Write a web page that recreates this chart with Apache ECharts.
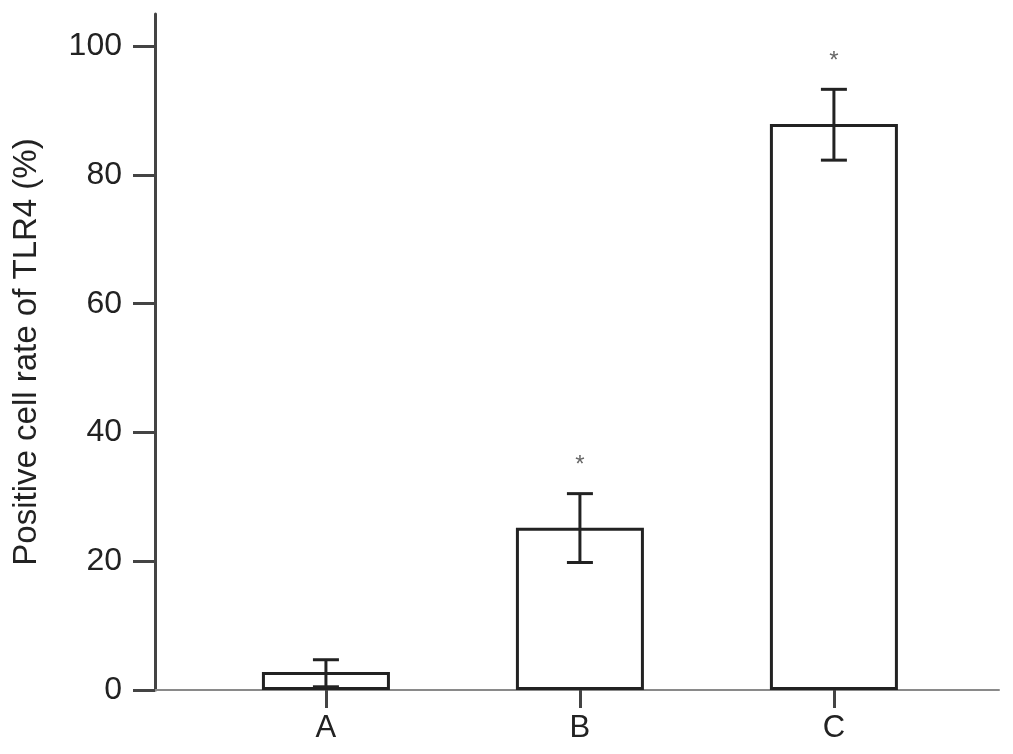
<!DOCTYPE html>
<html>
<head>
<meta charset="utf-8">
<script src="https://cdn.jsdelivr.net/npm/echarts@6/dist/echarts.min.js"></script>
<style>
    html, body { margin: 0; padding: 0; background: #fff; }
    #main { width: 1013px; height: 754px; }
</style>
</head>
<body>
<div id="main"></div>
<script>
// 数据
const categories = ['A', 'B', 'C'];
const positions = [1, 2, 3];
const rates = [2.8, 25.2, 87.9];
const errLow = [0.5, 19.8, 82.3];
const errHigh = [4.7, 30.5, 93.3];
const marks = ['', '*', '*'];
const yTicks = [0, 20, 40, 60, 80, 100];

let myChart = echarts.init(document.getElementById('main'));

const font = 'Liberation Sans, Arial, Helvetica, sans-serif';

let option = {
    backgroundColor: '#fff',
    animation: false,
    grid: { left: 155, right: 14, top: 14, bottom: 64 },
    xAxis: {
        type: 'value',
        min: 0.327,
        max: 3.65,
        splitLine: { show: false },
        axisLine: { lineStyle: { color: '#8a8a8a', width: 2 } },
        axisTick: {
            customValues: positions,
            length: 18,
            lineStyle: { color: '#444', width: 3 }
        },
        axisLabel: {
            customValues: positions,
            formatter: (v) => categories[Math.round(v) - 1],
            margin: 23,
            fontSize: 31,
            color: '#222',
            fontFamily: font
        }
    },
    yAxis: {
        type: 'value',
        min: 0,
        max: 105,
        name: 'Positive cell rate of TLR4 (%)',
        nameLocation: 'middle',
        nameGap: 112,
        nameTextStyle: { fontSize: 33, color: '#222', fontFamily: font },
        splitLine: { show: false },
        axisLine: { show: true, lineStyle: { color: '#444', width: 3 } },
        axisTick: {
            show: true,
            customValues: yTicks,
            length: 22,
            lineStyle: { color: '#444', width: 3 }
        },
        axisLabel: {
            customValues: yTicks,
            margin: 33,
            fontSize: 32,
            color: '#222',
            fontFamily: font
        }
    },
    series: [
        {
            type: 'bar',
            barWidth: 128,
            data: positions.map((p, i) => [p, rates[i]]),
            itemStyle: { color: '#fff', borderColor: '#222', borderWidth: 3 },
            z: 3
        },
        {
            // 误差线和显著性标记
            type: 'custom',
            data: positions.map((p, i) => [p, errLow[i], errHigh[i], i]),
            z: 5,
            renderItem: function (params, api) {
                const x = api.value(0);
                const lo = api.coord([x, api.value(1)]);
                const hi = api.coord([x, api.value(2)]);
                const half = 13;
                const style = { stroke: '#222', lineWidth: 3 };
                const children = [
                    { type: 'line', shape: { x1: lo[0], y1: lo[1], x2: hi[0], y2: hi[1] }, style: style },
                    { type: 'line', shape: { x1: hi[0] - half, y1: hi[1], x2: hi[0] + half, y2: hi[1] }, style: style },
                    { type: 'line', shape: { x1: lo[0] - half, y1: lo[1], x2: lo[0] + half, y2: lo[1] }, style: style }
                ];
                const m = marks[api.value(3)];
                if (m) {
                    children.push({
                        type: 'text',
                        style: {
                            text: m, x: hi[0], y: hi[1] - 28,
                            align: 'center', verticalAlign: 'middle',
                            fontSize: 24, fill: '#666', fontFamily: font
                        }
                    });
                }
                return { type: 'group', children: children };
            }
        }
    ]
};
myChart.setOption(option);
</script>
</body>
</html>
